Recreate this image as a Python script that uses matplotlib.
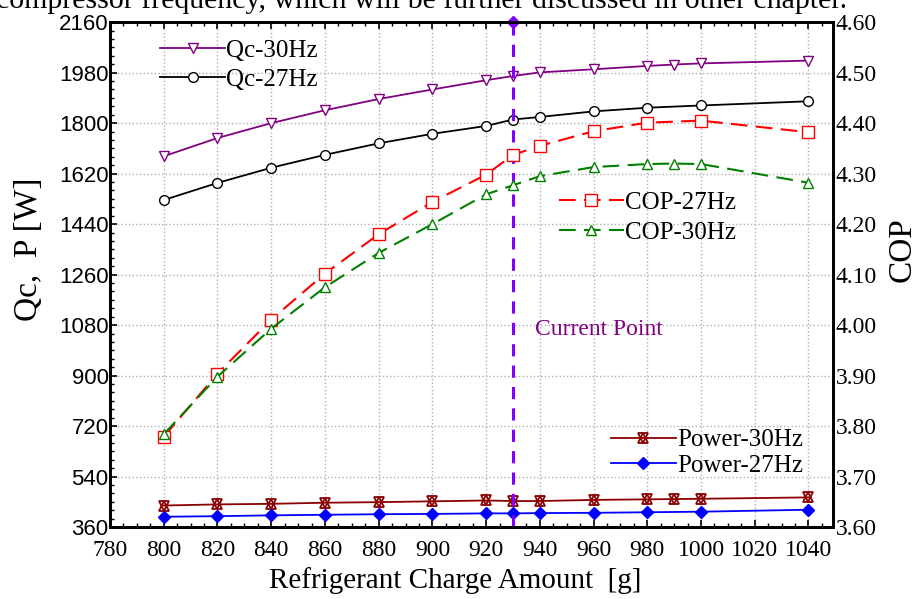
import numpy as np
import matplotlib.pyplot as plt
from matplotlib.ticker import MultipleLocator

plt.rcParams['font.family'] = 'Liberation Serif'

# charge amounts (27Hz runs skip 990 g)
x30 = [800, 820, 840, 860, 880, 900, 920, 930, 940, 960, 980, 990, 1000, 1040]
x27 = [800, 820, 840, 860, 880, 900, 920, 930, 940, 960, 980, 1000, 1040]

qc30 = [1682, 1747, 1800, 1846, 1886, 1920, 1953, 1968, 1981, 1992, 2004, 2009, 2013, 2023]
qc27 = [1526, 1587, 1641, 1687, 1728, 1762, 1790, 1813, 1822, 1842, 1855, 1863, 1878]
cop27 = [3.779, 3.904, 4.011, 4.102, 4.180, 4.244, 4.298, 4.337, 4.355, 4.384, 4.401, 4.405, 4.382]
cop30 = [3.784, 3.898, 3.993, 4.075, 4.143, 4.200, 4.259, 4.277, 4.295, 4.313, 4.319, 4.320, 4.319, 4.282]
pw30 = [437, 441, 443, 447, 449, 452, 455, 453, 453, 457, 459, 460, 461, 466]
pw27 = [397, 399, 402, 404, 406, 407, 409, 409, 410, 411, 413, 415, 422]

current_point = 930

fig = plt.figure(figsize=(9.17, 5.99), dpi=100)
ax = fig.add_axes([0.12, 0.12, 0.788, 0.843])
ax2 = ax.twinx()

# last line of the page text above the figure, cut off at the top edge
fig.text(-0.004, 1 - 8 / 599, "compressor frequency, which will be further discussed in other chapter.",
         fontsize=21.5, va='baseline', ha='left')

ax.set_xlim(780, 1049)
ax.set_ylim(360, 2160)
ax2.set_ylim(3.60, 4.60)

q30, = ax.plot(x30, qc30, '-', color='#800080', marker='v', mfc='white', mec='#800080', ms=7, lw=1.3)
q27, = ax.plot(x27, qc27, '-', color='black', marker='o', mfc='white', mec='black', ms=7, lw=1.3)
# hourglass marker for power-30Hz: up + down triangles on top of each other
p30a, = ax.plot(x30, pw30, '-', color='#8B0000', marker='^', mfc='none', mec='#8B0000', ms=7, mew=1.3, lw=1.3)
p30b, = ax.plot(x30, pw30, ls='none', marker='v', mfc='none', mec='#8B0000', ms=7, mew=1.3)
p27, = ax.plot(x27, pw27, '-', color='blue', marker='D', mfc='blue', mec='blue', ms=6, lw=1.3)

c27, = ax2.plot(x27, cop27, color='red', ls=(0, (8, 4)), marker='s', mfc='white', mec='red', ms=8, lw=1.5)
c30, = ax2.plot(x30, cop30, color='green', ls=(0, (8, 4)), marker='^', mfc='white', mec='green', ms=7, lw=1.5)

ax.axvline(current_point, color='#8000FF', ls=(0, (4, 3)), lw=2.2, zorder=5)
ax.plot([current_point], [2160], marker='D', color='#8000FF', ms=6, clip_on=False, zorder=6)
ax.text(962, 1066, 'Current Point', color='#800080', fontsize=17, ha='center', va='center')

ax.set_xticks(np.arange(780, 1041, 20))
ax.xaxis.set_minor_locator(MultipleLocator(5))
ax.set_yticks(np.arange(360, 2161, 180))
ax.yaxis.set_minor_locator(MultipleLocator(30))
cop_ticks = np.round(np.arange(3.60, 4.61, 0.10), 2)
ax2.set_yticks(cop_ticks)
ax2.set_yticklabels([f'{v:.2f}' for v in cop_ticks])

ax.tick_params(axis='both', which='both', direction='in', top=True)
ax.tick_params(which='major', length=5, width=1.2)
ax.tick_params(which='minor', length=3, width=1.0)
ax.tick_params(axis='x', labelsize=17, pad=9)
ax.tick_params(axis='y', labelsize=16, pad=1)
for lbl in ax.get_yticklabels():
    lbl.set_fontfamily('Liberation Sans')
ax2.tick_params(axis='y', direction='in', length=0, labelsize=17, pad=2)

ax.grid(True, which='major', color='#b0b0b0', ls=':', lw=1.0)
for sp in ax.spines.values():
    sp.set_linewidth(2)
for sp in ax2.spines.values():
    sp.set_linewidth(2)

ax.set_xlabel('Refrigerant Charge Amount  [g]', fontsize=21)
ax.xaxis.set_label_coords(0.478, -0.08)
ax.set_ylabel('Qc,  P [W]', fontsize=24)
ax.yaxis.set_label_coords(-0.091, 0.55)
ax2.set_ylabel('COP', fontsize=24)
ax2.yaxis.set_label_coords(1.076, 0.55)

leg_kw = dict(frameon=False, fontsize=18, handlelength=2.6, handletextpad=0.05)
lq = ax2.legend([q30, q27], ['Qc-30Hz', 'Qc-27Hz'], loc='upper left', bbox_to_anchor=(0.045, 1.0),
                borderaxespad=0.3, labelspacing=0.25, **leg_kw)
ax2.add_artist(lq)
lp = ax2.legend([(p30a, p30b), p27], ['Power-30Hz', 'Power-27Hz'], loc='lower right',
                bbox_to_anchor=(0.99, 0.055), labelspacing=0.12, **leg_kw)
ax2.add_artist(lp)
ax2.legend([c27, c30], ['COP-27Hz', 'COP-30Hz'], loc='upper left', bbox_to_anchor=(0.59, 0.71),
           labelspacing=0.3, **leg_kw)

fig.savefig('out.png', dpi=100)
